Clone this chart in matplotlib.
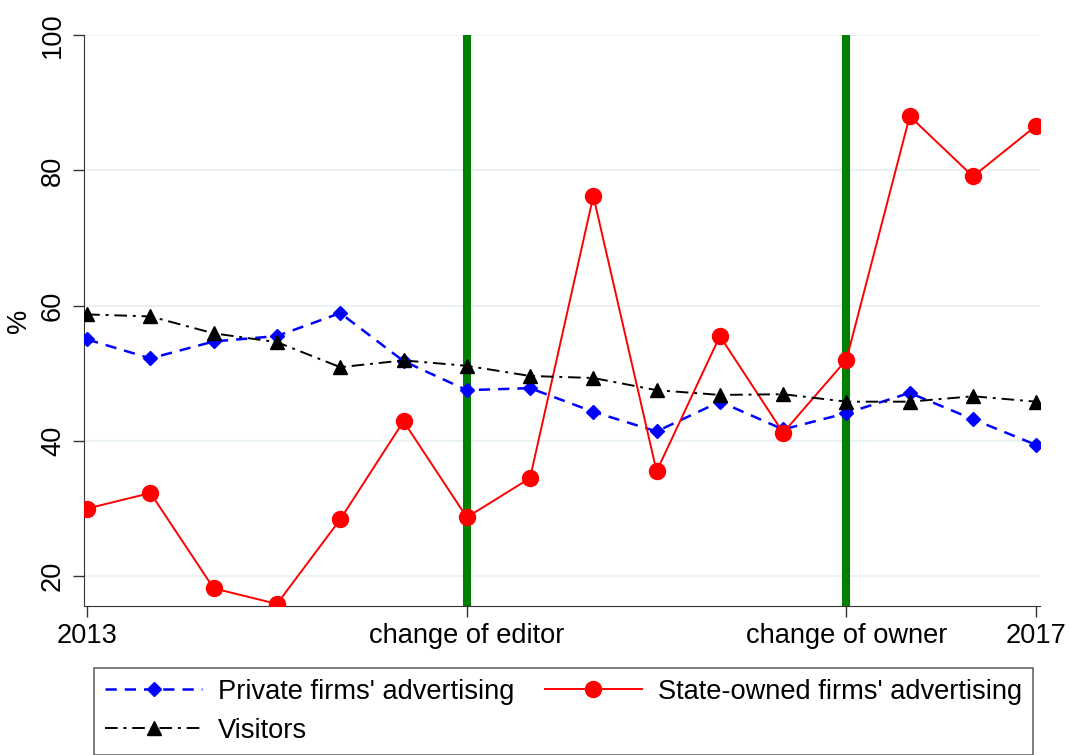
import numpy as np
import matplotlib.pyplot as plt

plt.rcParams['font.family'] = ['Liberation Sans', 'DejaVu Sans']

# half-year periods, 2013 .. 2017
periods = np.arange(16)
tick_pos = [0, 6, 12, 15]
tick_labels = ["2013", "change of editor", "change of owner", "2017"]
events = [6, 12]

private = [55.0, 52.2, 54.7, 55.5, 58.9, 51.8, 47.5, 47.8, 44.3, 41.4,
           45.8, 41.7, 44.1, 47.1, 43.2, 39.4]
state = [30.0, 32.3, 18.2, 15.9, 28.4, 42.9, 28.7, 34.5, 76.2, 35.5,
         55.5, 41.2, 52.0, 88.0, 79.1, 86.6]
visitors = [58.7, 58.4, 55.9, 54.6, 50.9, 51.9, 51.1, 49.6, 49.3, 47.5,
            46.8, 46.9, 45.8, 45.8, 46.6, 45.8]

fs = 19.6

fig = plt.figure(figsize=(10.7, 7.55), dpi=100)
ax = fig.add_axes([0.0785, 0.1974, 0.8935, 0.7562])

for e in events:
    ax.axvline(e, color="#008000", lw=5.8, zorder=1)

l_priv, = ax.plot(periods, private, color="blue", lw=1.8,
                  linestyle=(0, (4.5, 3.2)), marker="D", ms=7.5, zorder=3,
                  label="Private firms' advertising")
l_state, = ax.plot(periods, state, color="red", lw=1.4, marker="o",
                   ms=11.5, zorder=4, label="State-owned firms' advertising")
l_vis, = ax.plot(periods, visitors, color="black", lw=1.4,
                 linestyle=(0, (6.5, 3, 1.5, 3)), marker="^", ms=10,
                 zorder=5, label="Visitors")

ax.set_xlim(-0.05, 15.06)
ax.set_ylim(15.6, 100)
ax.set_yticks([20, 40, 60, 80, 100])
ax.set_xticks(tick_pos)
ax.set_xticklabels(tick_labels)
ax.yaxis.grid(True, color="#eaf2f3", lw=1.5, zorder=0)
ax.set_axisbelow(True)

ax.spines['right'].set_visible(False)
ax.spines['top'].set_visible(False)
ax.spines['left'].set_color("#333333")
ax.spines['bottom'].set_color("#333333")
ax.tick_params(axis="both", length=8, width=1, color="#333333",
               labelsize=fs)
ax.tick_params(axis="x", pad=4)
ax.tick_params(axis="y", pad=5)
for lab in ax.get_yticklabels():
    lab.set_rotation(90)
    lab.set_va("center")
ax.set_ylabel("%", fontsize=fs, labelpad=6)

leg = ax.legend([l_priv, l_vis, l_state],
                ["Private firms' advertising", "Visitors",
                 "State-owned firms' advertising"],
                ncol=2, loc="upper left", bbox_to_anchor=(0.0879, 0.1152),
                bbox_transform=fig.transFigure, borderaxespad=0,
                fontsize=fs, handlelength=3.57, handletextpad=0.59,
                columnspacing=1.1, labelspacing=0.47, borderpad=0.4,
                fancybox=False, framealpha=1)
leg.get_frame().set_edgecolor("#5a5a5a")
leg.get_frame().set_linewidth(1.1)

fig.savefig("out.png", dpi=100)
